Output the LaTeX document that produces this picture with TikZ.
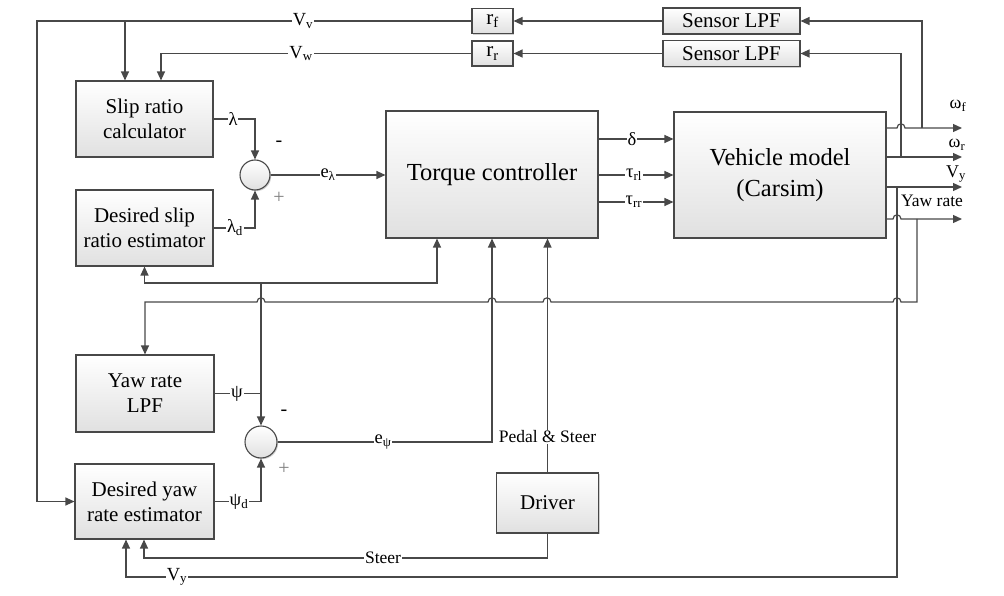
\documentclass[tikz,border=0pt]{standalone}
\usepackage{fontspec}
\setmainfont{Liberation Serif}
\usetikzlibrary{arrows.meta,shadows}
\definecolor{linec}{HTML}{484848}
\begin{document}
\begin{tikzpicture}[x=1pt,y=-1pt,
  blk/.style={draw=linec, line width=1.1pt, top color=white, bottom color=black!12,
    drop shadow={shadow xshift=1.4pt, shadow yshift=-1.4pt, fill=black, opacity=0.18},
    inner sep=0pt, align=center, font=\fontsize{21}{25}\selectfont},
  bigblk/.style={blk, font=\fontsize{24.5}{31}\selectfont},
  sumnode/.style={circle, draw=linec, line width=1.1pt, top color=white, bottom color=black!12,
    drop shadow={shadow xshift=1.2pt, shadow yshift=-1.2pt, fill=black, opacity=0.18}, inner sep=0pt},
  ln/.style={draw=linec, line width=1.2pt},
  arr/.style={ln, -{Triangle[length=9pt,width=8pt]}},
  lab/.style={fill=white, inner sep=1pt, font=\fontsize{18.5}{21}\selectfont},
  olab/.style={inner sep=0pt, font=\fontsize{18}{21}\selectfont},
  sgn/.style={inner sep=0pt, font=\fontsize{20}{22}\selectfont}
]
\useasboundingbox (0,0) rectangle (1004,596);

% blocks
\node[blk, minimum width=137pt, minimum height=76pt] (slip) at (144.5,119) {Slip ratio\\calculator};
\node[blk, minimum width=137pt, minimum height=76pt] (dslip) at (144.5,228) {Desired slip\\ratio estimator};
\node[blk, minimum width=138pt, minimum height=77pt] (ylpf) at (145,393.5) {Yaw rate\\LPF};
\node[blk, minimum width=139pt, minimum height=75pt] (dyaw) at (144.5,501.5) {Desired yaw\\rate estimator};
\node[bigblk, minimum width=212pt, minimum height=127pt] (tc) at (492,174.5) {Torque controller};
\node[bigblk, minimum width=212pt, minimum height=126pt] (veh) at (780,175) {Vehicle model\\(Carsim)};
\node[blk, minimum width=41pt, minimum height=25pt] (rf) at (492.5,21) {r\textsubscript{f}};
\node[blk, minimum width=41pt, minimum height=25pt] (rr) at (492.5,53.5) {r\textsubscript{r}};
\node[blk, minimum width=137pt, minimum height=26pt] (s1) at (731.5,21) {Sensor LPF};
\node[blk, minimum width=137pt, minimum height=26pt] (s2) at (731.5,53.5) {Sensor LPF};
\node[blk, minimum width=102pt, minimum height=60pt] (drv) at (547.5,503) {Driver};
\node[sumnode, minimum size=30pt] (sum1) at (255,175) {};
\node[sumnode, minimum size=32pt] (sum2) at (261,442) {};

% helper coordinates
\coordinate (xvv) at (125,0);
\coordinate (xvw) at (161,0);
\coordinate (xvy) at (126,0);
\coordinate (xtc) at (437,0);
\coordinate (yd) at (0,139);
\coordinate (yl) at (0,175);
\coordinate (yr) at (0,202);
\coordinate (ywf) at (0,128);
\coordinate (ywr) at (0,157);
\coordinate (yvy) at (0,187);
\coordinate (yyr) at (0,219);
\coordinate (fb) at (261,283);
\coordinate (st) at (144,558);
\coordinate (wfend) at (962,128);
\coordinate (wrend) at (962,157);
\coordinate (vyend) at (962,187);
\coordinate (yrend) at (962,219);

% sensor feedback
\draw[arr] (s1.west) -- (rf.east);
\draw[arr] (s2.west) -- (rr.east);
\draw[arr] (rf.west) -- (37,21) |- (dyaw.west);
\draw[arr] (xvv |- rf.west) -- (slip.north -| xvv);
\draw[arr] (rr.west) -- (161,53.5) -- (slip.north -| xvw);

% vehicle outputs
\draw[arr] (veh.east |- ywf) -- (897,128) .. controls (897,122.5) and (905,122.5) .. (905,128) -- (wfend);
\draw[arr] (922,128) |- (s1.east);
\draw[arr] (veh.east |- ywr) -- (wrend);
\draw[arr] (901,157) |- (s2.east);
\draw[arr] (veh.east |- yvy) -- (vyend);
\draw[arr] (897,187) -- (897,577) -- (126,577) -- (dyaw.south -| xvy);
\draw[arr] (veh.east |- yyr) -- (893,219) .. controls (893,213.5) and (901,213.5) .. (901,219) -- (yrend);
\draw[arr] (917,219) -- (917,302) -- (901,302)
  .. controls (901,296.5) and (893,296.5) .. (893,302) -- (551,302)
  .. controls (551,296.5) and (543,296.5) .. (543,302) -- (496,302)
  .. controls (496,296.5) and (488,296.5) .. (488,302) -- (265,302)
  .. controls (265,296.5) and (257,296.5) .. (257,302) -- (145,302) -- (ylpf.north);

% slip loop
\draw[arr] (slip.east) -| (sum1.north);
\draw[arr] (dslip.east) -| (sum1.south);
\draw[arr] (sum1.east) -- (sum1.east -| tc.west);

% controller to vehicle
\draw[arr] (tc.east |- yd) -- (veh.west |- yd);
\draw[arr] (tc.east |- yl) -- (veh.west |- yl);
\draw[arr] (tc.east |- yr) -- (veh.west |- yr);

% yaw loop
\draw[ln] (ylpf.east) -- (ylpf.east -| sum2.north);
\draw[arr] (fb) -- (sum2.north);
\draw[arr] (fb) -| (dslip.south);
\draw[arr] (fb) -| (tc.south -| xtc);
\draw[arr] (dyaw.east) -| (sum2.south);
\draw[arr] (sum2.east) -| (tc.south);
\draw[arr] (drv.north) -- (tc.south -| drv.north);
\draw[arr] (drv.south) |- (st) -- (dyaw.south -| st);

% labels on lines
\node[lab] at (303,21) {V\textsubscript{v}};
\node[lab] at (301,53.5) {V\textsubscript{w}};
\node[lab] at (233,119) {λ};
\node[lab] at (235,228) {λ\textsubscript{d}};
\node[lab] at (328,175) {e\textsubscript{λ}};
\node[lab] at (632,139) {δ};
\node[lab] at (634,175) {τ\textsubscript{rl}};
\node[lab] at (634,202) {τ\textsubscript{rr}};
\node[lab] at (237,393.5) {ψ};
\node[lab] at (239,501.5) {ψ\textsubscript{d}};
\node[lab] at (383,442) {e\textsubscript{ψ}};
\node[lab, font=\fontsize{17.5}{20}\selectfont] at (383,558) {Steer};
\node[lab] at (177,577) {V\textsubscript{y}};
\node[lab, font=\fontsize{17.5}{20}\selectfont] at (547.5,437) {Pedal \& Steer};

% output labels
\node[olab] at (958,106) {ω\textsubscript{f}};
\node[olab] at (957,145) {ω\textsubscript{r}};
\node[olab] at (956,174) {V\textsubscript{y}};
\node[olab, font=\fontsize{17.5}{20}\selectfont] at (932,201) {Yaw rate};

% signs
\node[sgn] at (279,144) {-};
\node[sgn, text=black!50] at (279,198) {+};
\node[sgn] at (284,413) {-};
\node[sgn, text=black!50] at (284,469) {+};
\end{tikzpicture}
\end{document}
